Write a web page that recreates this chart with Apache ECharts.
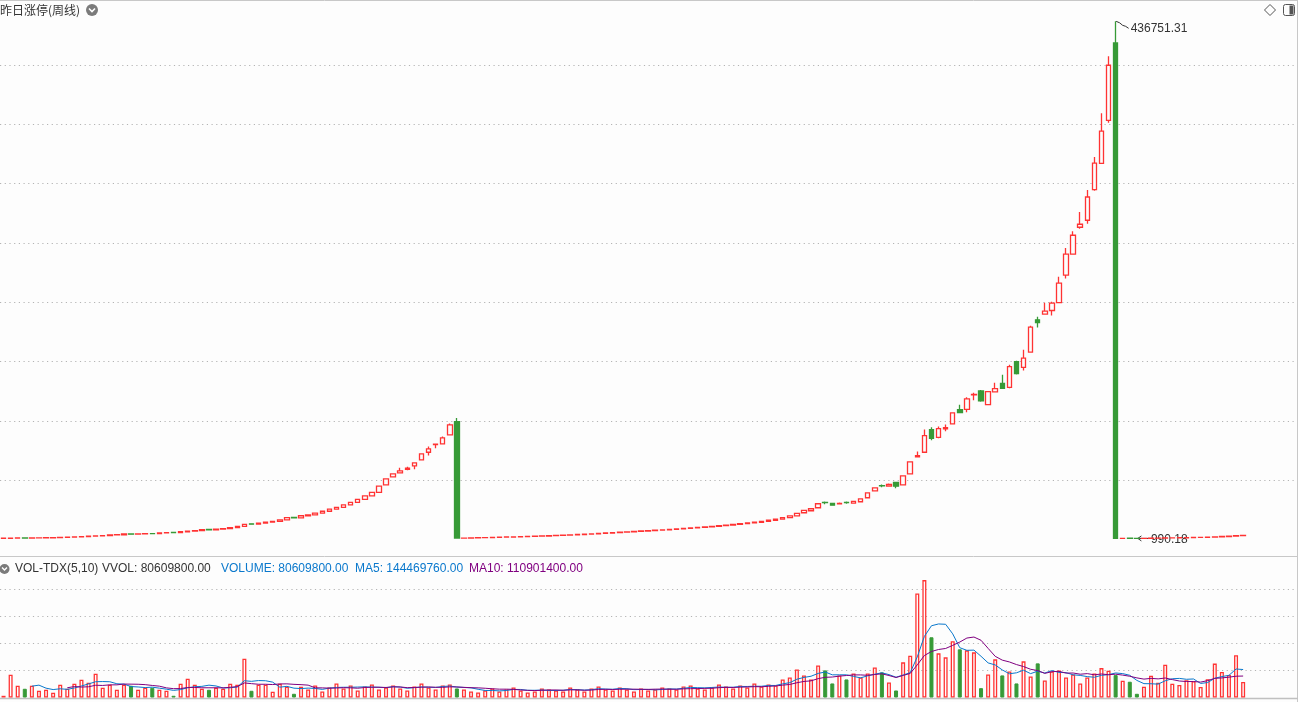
<!DOCTYPE html>
<html><head><meta charset="utf-8">
<script src="https://cdn.jsdelivr.net/npm/echarts@6/dist/echarts.min.js"></script>
<style>html,body{margin:0;padding:0;background:#fdfdfd;}#c{width:1298px;height:702px;}</style>
</head><body><div id="c"></div>
<script>
// ---- data: [open, close, low, high] ----
const ohlcA = [
[1050,1120,1020,1140],[1120,1250,1110,1260],[1250,1330,1240,1350],[1360,1310,1290,1370],[1310,1400,1300,1410],
[1400,1480,1390,1500],[1480,1560,1470,1570],[1560,1640,1550,1660],[1640,1900,1630,1920],[1900,2050,1880,2070],
[2050,2250,2040,2270],[2250,2450,2230,2470],[2450,2900,2440,2920],[2900,3150,2880,3170],[3150,3350,3120,3380],
[3350,3900,3330,3930],[3900,4100,3870,4130],[4100,4700,4080,4720],[4750,4600,4560,4790],[4600,4850,4580,4880],
[4850,5000,4820,5030],[5100,5020,4980,5600],[5020,5600,5000,5630],[5600,5900,5570,5940],[6000,5850,5800,6050],
[5850,6600,5820,6630],[6600,7200,6560,7240],[7200,7600,7150,7650],[7600,8400,7560,8440],[8500,8300,8250,8560],
[8300,8900,8260,8950],[8900,9300,8850,9360],[9300,10100,9250,10150],[10100,11200,10050,11250],[11100,12900,11050,12950],
[13300,13000,12900,13800],[13000,13900,12950,13950],[13900,14700,13850,14760],[14700,15400,14650,15460],[15300,16700,15250,16760],
[16700,18500,16650,18560],[18800,18300,18200,18900],[18300,20100,18250,20160],[20100,20900,20000,20980],[20900,22300,20850,22380],
[22300,23900,22250,23980],[23900,25600,23800,25700],[25600,27200,25500,27300],[27200,29300,27100,29400],[29300,31400,29200,31500],
[31400,33900,31300,34000],[33900,36800,33800,36900],[36800,39800,36700,39900],[39800,45000,39700,45200],[46180,51230,45800,51600],
[52910,55430,52500,55800],[56280,57960,56000,60480],[59300,60200,58460,61400],[62170,64690,59300,65000],[67210,72260,67000,72600],
[73600,76470,70830,78400],[80000,80500,76970,80800],[80670,85720,80400,86810],[88240,96650,88000,97750],[99430,1262,1262,102540]
];
const ohlcB = [
[1262,1300,1240,1320],[1300,1430,1290,1450],[1430,1598,1420,1610],[1598,1682,1580,1700],[1682,1851,1670,1870],
[1851,2019,1840,2040],[2019,2187,2000,2200],[2187,2355,2170,2370],[2355,2524,2340,2540],[2524,2692,2510,2710],
[2692,2860,2680,2880],[2860,3028,2840,3050],[3028,3281,3010,3300],[3281,3533,3260,3550],[3533,3785,3510,3800],
[3785,4038,3770,4060],[4038,4290,4020,4310],[4290,4542,4270,4560],[4542,4879,4520,4900],[4879,5215,4860,5240],
[5215,5552,5200,5580],[5552,5888,5530,5910],[5888,6225,5860,6250],[6225,6561,6200,6590],[6561,6898,6540,6920],
[6898,7234,6870,7260],[7234,7571,7210,7600],[7571,7907,7550,7930],[7907,8244,7880,8270],[8244,8580,8220,8610],
[8580,9001,8560,9030],[9001,9421,8980,9450],[9421,9842,9400,9870],[9842,10263,9820,10290],[10263,10683,10240,10710],
[10683,11104,10660,11130],[11104,11693,11080,11720],[11693,12282,11670,12310],[12282,12870,12260,12900],[12870,13459,12850,13490],
[13459,14048,13430,14080],[14048,14637,14020,14670],[14637,15310,14610,15340],[15310,16319,15280,16350],[16319,17329,16290,17360],
[17329,18506,17300,18540],[18506,19936,18480,19970],[19936,22039,19900,22080],
[22630,24560,22600,24600],[24310,25990,24280,26030],[26830,30200,26800,30250],[31300,31250,29860,32130],[30450,29020,28990,30480],
[30200,30450,30180,31290],[31300,31250,30200,32130],[30700,32130,30680,32160],[31880,34400,31850,34430],[35250,39450,35220,39480],
[41130,43660,41100,43690],[45380,45300,44160,46430],[45000,46430,44980,47270],[48120,45000,43320,48150],[46180,53750,46150,53780],
[55430,65530,55400,65560],[69740,70830,69700,74190],[73600,87650,73570,92680],[92680,85380,83700,94640],[86220,93540,85380,95220],
[93290,94380,91270,96910],[97490,106750,97460,106780],[109520,107000,106750,113730],[109770,118520,107250,119870],[122000,122300,117340,123830],
[125250,116840,116250,126090],[113730,124670,113700,124700],[124410,127190,124380,132230],[131650,127440,127400,138960],[128280,145690,127440,147370],
[149900,139800,139220,150740],[145100,153010,142580,160000],[158060,179090,158030,180180],[185230,182960,178750,187760],[190030,192550,190000,199530],
[193050,199280,188850,200370],[199780,216100,199750,221410],[222830,240500,219970,245800],[240500,256480,240470,259850],[263210,265740,262030,276080],
[269100,288700,266240,294590],[294840,317300,294000,322350],[317040,344220,317010,359360],[353220,399740,351200,407310]
];
const ohlcC = [
[418500,1010,1000,436751.31],[1030,1100,1010,1110],[1120,1060,1040,1130],[1060,1020,990.18,1070],[1040,1100,1030,1110],
[1100,1200,1090,1210],[1200,1260,1190,1270],[1260,1450,1250,1460],[1450,1500,1440,1510],[1500,1580,1490,1590],
[1580,1700,1570,1710],[1700,1820,1690,1830],[1820,1880,1810,1890],[1880,2020,1870,2030],[2020,2350,2010,2360],
[2350,2600,2340,2610],[2600,2850,2590,2860],[2850,3300,2840,3310],[3300,3450,3290,3460]
];
// volumes, in millions of shares
const volA = [
8.8,117.7,60.7,45.1,60.7,34.7,39.9,24.4,65.8,45.1,
71.0,91.8,76.2,122.9,50.3,65.8,39.9,65.8,60.7,39.9,
50.3,50.3,39.9,34.7,8.8,71.0,97.0,65.8,45.1,39.9,
50.3,45.1,71.0,65.8,200.7,34.7,65.8,65.8,29.6,71.0,
55.5,19.2,55.5,41.5,62.2,31.1,51.9,72.6,46.7,62.2,
36.3,57.0,67.4,41.5,51.9,62.2,46.7,36.3,57.0,72.6,
51.9,41.5,62.2,67.4,46.7
];
const volB = [
41.5,31.1,25.9,36.3,46.7,31.1,41.5,51.9,36.3,25.9,
31.1,46.7,41.5,36.3,31.1,51.9,41.5,31.1,46.7,57.0,
41.5,36.3,51.9,41.5,31.1,46.7,36.3,41.5,51.9,46.7,
41.5,57.0,62.2,46.7,41.5,51.9,67.4,57.0,46.7,62.2,
51.9,72.6,57.0,67.4,62.2,93.3,103.7,145.2,114.1,93.3,
165.9,140.0,72.6,114.1,93.3,124.4,103.7,124.4,155.6,129.6,
77.8,36.3,181.5,216.2,537.7,606.6,311.1,228.1,207.4,290.4,
248.9,243.7,233.3,48.2,119.3,197.0,114.1,134.8,72.6,186.7,
108.9,176.3,88.1,134.8,140.0,103.7,119.3,72.6,103.7,124.4,
151.9,138.4
];
const volC = [
115.6,86.6,81.4,19.2,55.5,112.5,76.2,169.5,71.0,
64.19,89.46,84.41,54.08,94.5252,175.16,132.31,116.24,218.029,80.6098
];
const priceTicks = [0,50000,100000,150000,200000,250000,300000,350000,400000,450000];
const volTicks = [0,140e6,280e6,420e6,560e6,700e6];
const blankWeeks = 7; // empty slots kept on the right, as in the reference

const RED = '#ff3333', GREEN = '#379a37', BG = '#fdfdfd', BLUE = '#0a78cc', PURPLE = '#800080';
const ohlc = ohlcA.concat(ohlcB, ohlcC);
const vols = volA.concat(volB, volC).map(v => Math.round(v * 1e6));
const categories = ohlc.map((d, i) => String(i + 1));
for (let k = 0; k < blankWeeks; k++) categories.push('');

function ma(n) {
  return vols.map((v, i) => {
    if (i < n - 1) return '-';
    let s = 0; for (let k = i - n + 1; k <= i; k++) s += vols[k];
    return s / n;
  });
}
const ma5 = ma(5), ma10 = ma(10);
const volData = vols.map((v, i) => {
  const up = ohlc[i][1] >= ohlc[i][0];
  return { value: v, itemStyle: up ? { color: BG, borderColor: RED, borderWidth: 1.3 } : { color: GREEN, borderColor: GREEN, borderWidth: 1 } };
});
const last = vols.length - 1;

const chart = echarts.init(document.getElementById('c'), null, { renderer: 'canvas' });
const gridW = 7.1 * categories.length;
const dot = [1.2, 3.5];
const GRAY = '#b4b4b4', NONE = 'rgba(0,0,0,0)';
function lineColors(n) { const a = []; for (let i = 0; i < n; i++) a.push(i === 0 || i === n - 1 ? NONE : GRAY); return a; }

const txt12 = '12px "Liberation Sans", Arial, sans-serif';
const baseGraphics = [
  { type: 'line', shape: { x1: 0, y1: 0.5, x2: 1298, y2: 0.5 }, style: { stroke: '#c8c8c8', lineWidth: 1 } },
  { type: 'line', shape: { x1: 1297.5, y1: 0, x2: 1297.5, y2: 702 }, style: { stroke: '#c8c8c8', lineWidth: 1 } },
  { type: 'line', shape: { x1: 0, y1: 556.5, x2: 1298, y2: 556.5 }, style: { stroke: '#c8c8c8', lineWidth: 1 } },
  { type: 'line', shape: { x1: 0, y1: 698.5, x2: 1298, y2: 698.5 }, style: { stroke: '#c0c0c0', lineWidth: 1.5 } },
  { type: 'text', x: 0, y: 10, style: { text: '昨日涨停(周线)', font: '12px "Noto Sans CJK SC", sans-serif', fill: '#333', verticalAlign: 'middle' } },
  { type: 'circle', shape: { cx: 92, cy: 10, r: 6 }, style: { fill: '#7b7b7b' } },
  { type: 'polyline', shape: { points: [[89, 8.5], [92, 11.5], [95, 8.5]] }, style: { stroke: '#fff', lineWidth: 1.6, fill: null } },
  { type: 'polygon', shape: { points: [[1270, 4.5], [1275.5, 10], [1270, 15.5], [1264.5, 10]] }, style: { stroke: '#555', fill: null, lineWidth: 1 } },
  { type: 'rect', shape: { x: 1283.5, y: 4.5, width: 11, height: 11, r: 2 }, style: { stroke: '#555', fill: null, lineWidth: 1 } },
  { type: 'rect', shape: { x: 1289.5, y: 5.5, width: 4, height: 9 }, style: { fill: '#555' } },
  { type: 'circle', shape: { cx: 4.5, cy: 569, r: 5 }, style: { fill: '#7b7b7b' } },
  { type: 'polyline', shape: { points: [[2, 567.5], [4.5, 570], [7, 567.5]] }, style: { stroke: '#fff', lineWidth: 1.4, fill: null } },
  { type: 'text', x: 15, y: 569, style: { text: 'VOL-TDX(5,10)', font: txt12, fill: '#333', verticalAlign: 'middle' } },
  { type: 'text', x: 102, y: 569, style: { text: 'VVOL: ' + vols[last].toFixed(2), font: txt12, fill: '#333', verticalAlign: 'middle' } },
  { type: 'text', x: 221, y: 569, style: { text: 'VOLUME: ' + vols[last].toFixed(2), font: txt12, fill: BLUE, verticalAlign: 'middle' } },
  { type: 'text', x: 355, y: 569, style: { text: 'MA5: ' + ma5[last].toFixed(2), font: txt12, fill: BLUE, verticalAlign: 'middle' } },
  { type: 'text', x: 469, y: 569, style: { text: 'MA10: ' + ma10[last].toFixed(2), font: txt12, fill: PURPLE, verticalAlign: 'middle' } }
];

chart.setOption({
  animation: false,
  backgroundColor: BG,
  grid: [
    { left: -3.05, width: gridW, top: 5.6, height: 534.0 },
    { left: -3.05, width: gridW, top: 562, height: 135.5 }
  ],
  xAxis: [
    { type: 'category', data: categories, gridIndex: 0, boundaryGap: true, axisLine: { show: false }, axisTick: { show: false }, axisLabel: { show: false }, splitLine: { show: false } },
    { type: 'category', data: categories, gridIndex: 1, boundaryGap: true, axisLine: { show: false }, axisTick: { show: false }, axisLabel: { show: false }, splitLine: { show: false } }
  ],
  yAxis: [
    { type: 'value', gridIndex: 0, min: priceTicks[0], max: priceTicks[priceTicks.length - 1], interval: priceTicks[1] - priceTicks[0],
      axisLine: { show: false }, axisTick: { show: false }, axisLabel: { show: false },
      splitLine: { show: true, lineStyle: { color: lineColors(priceTicks.length), type: dot, width: 1 } } },
    { type: 'value', gridIndex: 1, min: volTicks[0], max: volTicks[volTicks.length - 1], interval: volTicks[1] - volTicks[0],
      axisLine: { show: false }, axisTick: { show: false }, axisLabel: { show: false },
      splitLine: { show: true, lineStyle: { color: lineColors(volTicks.length), type: dot, width: 1 } } }
  ],
  series: [
    { type: 'candlestick', xAxisIndex: 0, yAxisIndex: 0, data: ohlc, barWidth: 5,
      itemStyle: { color: BG, color0: GREEN, borderColor: RED, borderColor0: GREEN, borderWidth: 1.3 } },
    { type: 'bar', xAxisIndex: 1, yAxisIndex: 1, data: volData, barWidth: 4 },
    { type: 'line', xAxisIndex: 1, yAxisIndex: 1, data: ma5, symbol: 'none', lineStyle: { color: BLUE, width: 1 }, itemStyle: { color: BLUE } },
    { type: 'line', xAxisIndex: 1, yAxisIndex: 1, data: ma10, symbol: 'none', lineStyle: { color: PURPLE, width: 1 }, itemStyle: { color: PURPLE } }
  ],
  graphic: baseGraphics
});

// max / min markers placed through the chart's own scales
let hiI = 0, loI = 0;
ohlc.forEach((d, i) => { if (d[3] > ohlc[hiI][3]) hiI = i; if (d[2] < ohlc[loI][2]) loI = i; });
const pH = chart.convertToPixel({ gridIndex: 0 }, [hiI, ohlc[hiI][3]]);
const pL = chart.convertToPixel({ gridIndex: 0 }, [loI, ohlc[loI][2]]);
const extra = [
  { type: 'polyline', shape: { points: [[pH[0] + 0.5, pH[1]], [pH[0] + 4, pH[1] + 1.5]] }, style: { stroke: '#333', lineWidth: 1, fill: null } },
  { type: 'polyline', shape: { points: [[pH[0] + 4, pH[1] + 1.5], [pH[0] + 7, pH[1] + 4], [pH[0] + 10, pH[1] + 5], [pH[0] + 13, pH[1] + 7]] }, style: { stroke: '#333', lineWidth: 1, fill: null } },
  { type: 'text', x: pH[0] + 15, y: pH[1] + 7, style: { text: ohlc[hiI][3].toFixed(2), font: txt12, fill: '#333', verticalAlign: 'middle' } },
  { type: 'line', shape: { x1: pL[0] + 1, y1: pL[1], x2: pL[0] + 14, y2: pL[1] }, style: { stroke: '#333', lineWidth: 1 } },
  { type: 'polyline', shape: { points: [[pL[0] + 4.5, pL[1] - 2.5], [pL[0] + 1, pL[1]], [pL[0] + 4.5, pL[1] + 2.5]] }, style: { stroke: '#333', lineWidth: 1, fill: null } },
  { type: 'text', x: pL[0] + 14, y: pL[1] + 1, style: { text: ohlc[loI][2].toFixed(2), font: txt12, fill: '#333', verticalAlign: 'middle' } }
];
chart.setOption({ graphic: baseGraphics.concat(extra) }, { replaceMerge: ['graphic'] });
</script></body></html>
